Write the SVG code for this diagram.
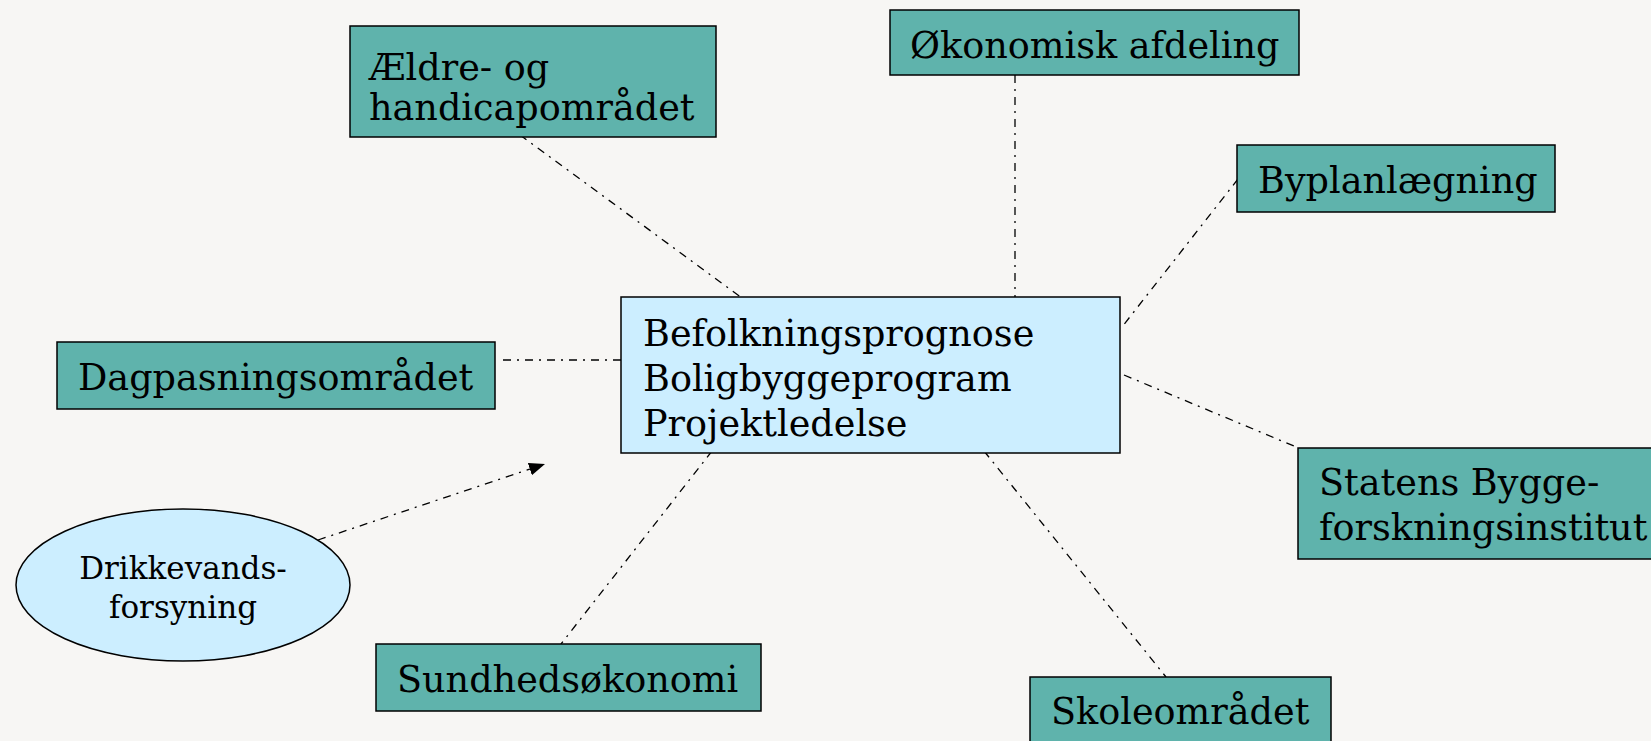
<svg xmlns="http://www.w3.org/2000/svg" width="1651" height="741" viewBox="0 0 1651 741">
<style>
.bg{fill:#F7F6F4}
.teal{fill:#5FB3AC;stroke:#000;stroke-width:1.5}
.blue{fill:#CCEEFF;stroke:#000;stroke-width:1.5}
.t{font-family:"DejaVu Serif","Liberation Serif",serif;font-size:36.6px;fill:#000}
.ts{font-family:"DejaVu Serif","Liberation Serif",serif;font-size:31px;fill:#000;text-anchor:middle}
.c{stroke:#000;stroke-width:1.3;fill:none;stroke-dasharray:8 6 2 6}
</style>
<defs>
<marker id="ah" viewBox="0 0 16 13" refX="16" refY="6.5" markerWidth="16" markerHeight="13" markerUnits="userSpaceOnUse" orient="auto">
<path d="M0,0 L16,6.5 L0,13 Z" fill="#000"/>
</marker>
</defs>
<rect class="bg" x="0" y="0" width="1651" height="741"/>
<g id="connectors">
<line class="c" x1="520" y1="135" x2="742" y2="298"/>
<line class="c" x1="1015" y1="75" x2="1015" y2="297"/>
<line class="c" x1="1238" y1="179" x2="1122" y2="327"/>
<line class="c" x1="503" y1="360" x2="621" y2="360"/>
<line class="c" x1="1124" y1="375" x2="1301" y2="449"/>
<line class="c" x1="712" y1="451" x2="561" y2="644"/>
<line class="c" x1="984" y1="451" x2="1166" y2="677"/>
<line class="c" x1="318" y1="540" x2="545" y2="464" marker-end="url(#ah)"/>
</g>
<g id="aeldre">
<rect class="teal" x="350" y="26" width="366" height="111"/>
<text class="t" x="369" y="80">Ældre- og</text>
<text class="t" x="369" y="120">handicapområdet</text>
</g>
<g id="okonomisk">
<rect class="teal" x="890" y="10" width="409" height="65"/>
<text class="t" x="910" y="58">Økonomisk afdeling</text>
</g>
<g id="byplan">
<rect class="teal" x="1237" y="145" width="318" height="67"/>
<text class="t" x="1258" y="193">Byplanlægning</text>
</g>
<g id="dagpasning">
<rect class="teal" x="57" y="342" width="438" height="67"/>
<text class="t" x="78" y="390">Dagpasningsområdet</text>
</g>
<g id="center">
<rect class="blue" x="621" y="297" width="499" height="156"/>
<text class="t" x="643" y="346">Befolkningsprognose</text>
<text class="t" x="643" y="391">Boligbyggeprogram</text>
<text class="t" x="643" y="436">Projektledelse</text>
</g>
<g id="statens">
<rect class="teal" x="1298" y="448" width="360" height="111"/>
<text class="t" x="1319" y="495">Statens Bygge-</text>
<text class="t" x="1319" y="540">forskningsinstitut</text>
</g>
<g id="drikkevand">
<ellipse class="blue" cx="183" cy="585" rx="167" ry="76"/>
<text class="ts" x="183" y="579">Drikkevands-</text>
<text class="ts" x="183" y="618">forsyning</text>
</g>
<g id="sundhed">
<rect class="teal" x="376" y="644" width="385" height="67"/>
<text class="t" x="397" y="692">Sundhedsøkonomi</text>
</g>
<g id="skole">
<rect class="teal" x="1030" y="677" width="301" height="80"/>
<text class="t" x="1051" y="724">Skoleområdet</text>
</g>
</svg>
